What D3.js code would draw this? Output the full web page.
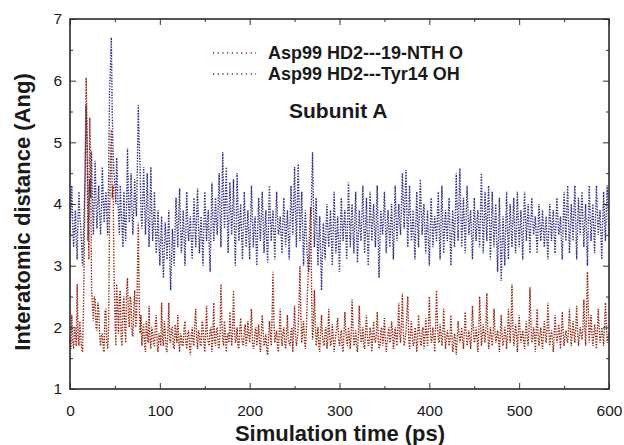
<!doctype html>
<html lang="en">
  <head>
    <meta charset="utf-8">
    <title>Interatomic distance</title>
    <script src="https://d3js.org/d3.v7.min.js"></script>
    <style>
      body { margin: 0; background: #fff; }
      text { font-family: "Liberation Sans", Arial, sans-serif; fill: #1a1a1a; }
    </style>
  </head>
  <body>
    <div id="my_dataviz"></div>

    <script>
      // time axis: one sample every 1 ps, 0..600
      var timeStep = 1;

      // Asp99 HD2---19-NTH O (red), 20 values per row = 20 ps
      var ntoValues = [
        1.8, 1.65, 2.2, 1.75, 1.65, 2.0, 1.9, 1.7, 2.7, 1.85, 1.7, 2.1, 1.85, 1.65, 1.6, 2.3, 3.4, 4.8, 6.05, 5.2,
        4.2, 3.1, 5.4, 4.5, 2.6, 2.35, 2.1, 2.5, 2.45, 2.0, 1.95, 2.4, 2.3, 1.9, 1.7, 1.85, 1.9, 1.65, 1.6, 2.25,
        2.3, 1.75, 1.65, 2.0, 3.8, 4.6, 5.2, 4.1, 4.3, 2.9, 2.2, 1.7, 2.7, 2.3, 1.9, 2.5, 2.6, 1.8, 1.7, 2.35,
        2.5, 2.0, 1.75, 2.6, 2.8, 2.2, 2.0, 2.5, 2.4, 1.9, 1.85, 2.3, 2.6, 2.0, 2.1, 2.8, 3.7, 2.5, 1.9, 2.2,
        1.7, 1.95, 2.05, 1.7, 1.6, 2.1, 1.9, 1.75, 2.35, 1.8, 1.65, 2.0, 1.95, 1.7, 1.7, 2.05, 2.2, 1.75, 1.6, 1.9,
        1.85, 1.7, 2.4, 1.8, 1.7, 2.1, 1.95, 1.65, 1.6, 1.95, 2.4, 1.8, 1.75, 2.0, 2.0, 1.7, 1.65, 2.05, 1.9, 1.75,
        2.2, 1.8, 1.6, 1.9, 1.85, 1.7, 1.7, 2.0, 2.1, 1.75, 1.65, 1.9, 1.95, 1.7, 1.55, 1.85, 2.0, 1.75, 1.7, 2.1,
        2.3, 1.8, 1.65, 1.95, 1.9, 1.7, 1.7, 2.1, 2.05, 1.75, 1.6, 1.9, 2.35, 1.85, 1.75, 1.7, 1.95, 2.0, 1.6, 1.85,
        2.4, 1.8, 1.7, 1.95, 2.0, 1.7, 1.65, 1.9, 2.7, 2.1, 1.8, 1.7, 2.1, 1.9, 1.6, 1.85, 1.9, 1.75, 2.25, 1.95,
        1.7, 1.9, 2.6, 2.0, 1.75, 1.8, 2.0, 1.7, 1.65, 1.95, 2.15, 1.85, 1.75, 1.7, 1.95, 2.05, 1.7, 1.8, 2.1, 1.9,
        1.75, 1.95, 2.3, 1.8, 1.65, 1.7, 1.95, 2.0, 1.7, 1.85, 2.05, 1.75, 1.6, 1.9, 2.2, 1.95, 1.7, 1.75, 1.9, 1.65,
        1.55, 1.8, 2.1, 1.9, 1.7, 2.2, 2.9, 2.1, 1.75, 1.85, 1.95, 1.7, 1.6, 1.95, 2.3, 1.85, 1.7, 1.9, 2.0, 1.75,
        1.65, 1.9, 2.2, 1.8, 1.75, 1.7, 1.95, 2.0, 1.6, 1.95, 2.35, 1.9, 1.7, 1.8, 2.0, 2.4, 3.0, 2.2, 1.75, 1.95,
        2.1, 1.8, 1.65, 1.9, 2.4, 2.8, 3.3, 3.7, 3.95, 2.5, 1.8, 2.0, 2.6, 2.1, 1.7, 1.85, 2.0, 1.7, 1.6, 1.95,
        2.2, 1.85, 1.75, 1.7, 1.95, 2.0, 1.65, 1.8, 2.3, 1.9, 1.7, 1.75, 2.05, 1.85, 1.6, 1.75, 1.9, 2.0, 2.15, 1.8,
        1.7, 1.85, 1.95, 1.7, 1.6, 1.9, 2.25, 1.95, 1.75, 1.7, 2.0, 1.85, 1.65, 1.9, 2.45, 2.0, 1.7, 1.75, 1.95, 1.7,
        1.6, 1.9, 2.35, 1.95, 1.75, 1.8, 2.0, 1.7, 1.65, 1.95, 2.2, 1.85, 1.7, 1.75, 2.0, 1.9, 1.6, 1.85, 2.1, 1.8,
        1.75, 1.9, 2.25, 1.85, 1.65, 1.7, 1.95, 2.0, 1.7, 1.85, 2.15, 1.8, 1.6, 1.75, 1.9, 2.0, 1.75, 1.8, 2.1, 1.95,
        1.65, 1.8, 2.0, 1.85, 1.7, 2.0, 2.4, 1.9, 1.75, 2.1, 2.55, 1.9, 1.7, 1.8, 1.95, 2.2, 2.5, 1.85, 1.65, 1.9,
        2.1, 1.85, 1.7, 1.75, 2.0, 1.9, 1.6, 1.8, 2.2, 1.95, 1.75, 1.7, 1.95, 2.0, 1.65, 1.8, 2.15, 1.9, 1.7, 2.0,
        2.5, 2.0, 1.75, 1.8, 2.0, 1.85, 1.6, 2.0, 2.6, 2.1, 1.8, 1.75, 2.05, 1.9, 1.7, 1.85, 2.3, 1.95, 1.65, 1.8,
        1.95, 1.85, 1.7, 1.8, 2.2, 1.9, 1.6, 1.7, 1.9, 1.8, 1.55, 1.8, 2.1, 1.9, 1.75, 1.85, 2.0, 1.8, 1.65, 1.95,
        2.25, 1.9, 1.7, 1.8, 1.95, 1.85, 1.65, 1.9, 2.35, 2.0, 1.75, 1.8, 2.0, 1.85, 1.6, 1.9, 2.5, 2.1, 1.7, 1.85,
        2.05, 1.9, 1.75, 2.0, 2.55, 1.95, 1.65, 1.8, 2.0, 1.85, 1.7, 1.9, 2.3, 1.95, 1.75, 1.85, 1.95, 1.8, 1.6, 1.9,
        2.2, 1.85, 1.7, 1.8, 2.0, 1.9, 1.65, 1.85, 2.3, 2.0, 1.75, 2.1, 2.7, 2.0, 1.7, 1.85, 2.05, 1.9, 1.6, 1.9,
        2.2, 1.95, 1.75, 1.85, 1.95, 1.8, 1.65, 1.9, 2.1, 1.85, 1.7, 2.0, 2.65, 2.1, 1.75, 1.8, 2.0, 1.9, 1.6, 1.95,
        2.3, 1.9, 1.7, 1.85, 2.0, 1.8, 1.65, 1.9, 2.1, 1.9, 1.75, 1.95, 2.4, 2.0, 1.7, 1.85, 1.95, 1.8, 1.6, 1.9,
        2.2, 1.9, 1.75, 1.85, 2.05, 1.9, 1.65, 1.95, 2.25, 1.9, 1.7, 1.85, 1.95, 1.8, 1.75, 2.0, 2.3, 1.95, 1.7, 1.9,
        2.1, 1.9, 1.75, 2.0, 2.35, 1.95, 1.7, 1.85, 2.0, 1.9, 1.8, 2.0, 2.45, 2.0, 1.7, 2.2, 2.9, 2.3, 1.75, 1.95,
        2.2, 1.9, 1.7, 1.85, 2.05, 1.9, 1.65, 1.95, 2.3, 2.0, 1.75, 1.85, 2.0, 1.9, 1.7, 2.0, 2.4, 2.05, 1.75, 1.85,
        1.9
      ];

      // Asp99 HD2---Tyr14 OH (blue), 20 values per row = 20 ps
      var tyrValues = [
        3.5, 3.9, 4.3, 3.7, 3.3, 3.6, 3.9, 3.4, 3.1, 3.8, 4.2, 3.8, 3.6, 3.3, 3.0, 3.5, 4.0, 4.6, 5.6, 4.9,
        3.4, 3.9, 4.4, 4.1, 4.85, 4.0, 3.5, 4.1, 4.7, 4.0, 3.6, 4.0, 4.3, 3.8, 3.5, 3.9, 4.6, 4.1, 3.7, 4.0,
        4.2, 3.8, 3.5, 4.4, 5.8, 6.2, 6.7, 5.5, 4.8, 4.5, 4.3, 4.0, 4.75, 4.2, 3.8, 3.5, 4.3, 3.9, 3.6, 3.3,
        4.2, 3.7, 3.4, 4.0, 4.9, 4.1, 3.7, 4.0, 4.5, 3.9, 3.5, 3.9, 4.4, 4.0, 3.8, 4.6, 5.6, 5.0, 4.6, 3.9,
        3.6, 4.0, 4.6, 4.0, 3.5, 3.9, 4.5, 3.8, 3.3, 3.8, 4.6, 3.9, 3.4, 3.7, 4.2, 3.6, 3.2, 3.5, 3.9, 3.4,
        3.0, 3.4, 3.8, 3.2, 2.8, 3.3, 3.7, 3.4, 3.1, 3.5, 3.9, 3.2, 2.6, 3.1, 3.6, 3.3, 3.0, 3.6, 4.1, 3.7,
        3.3, 3.8, 4.25, 3.6, 3.2, 3.5, 3.9, 3.5, 3.0, 3.6, 4.2, 3.7, 3.4, 3.6, 3.8, 3.4, 3.1, 3.6, 4.1, 3.7,
        3.3, 3.8, 4.25, 3.7, 3.2, 3.5, 3.8, 3.4, 3.0, 3.6, 4.2, 3.8, 3.4, 3.7, 3.9, 3.3, 2.9, 3.7, 4.35, 3.8,
        3.4, 3.7, 4.1, 3.7, 3.5, 4.0, 4.5, 3.9, 3.3, 4.0, 4.84, 4.1, 3.6, 4.1, 4.6, 3.8, 3.2, 3.8, 4.35, 3.9,
        3.5, 3.9, 4.4, 3.6, 3.0, 3.7, 4.5, 3.9, 3.4, 3.7, 4.0, 3.5, 3.1, 3.7, 4.2, 3.7, 3.3, 3.6, 3.9, 3.5,
        3.1, 3.7, 4.3, 3.8, 3.3, 3.6, 3.8, 3.4, 3.0, 3.6, 4.1, 3.7, 3.4, 3.8, 4.2, 3.7, 3.2, 3.6, 3.9, 3.4,
        3.05, 3.7, 4.3, 3.8, 3.4, 3.7, 3.9, 3.5, 3.1, 3.7, 4.2, 3.8, 3.5, 3.6, 3.8, 3.5, 3.2, 3.7, 4.1, 3.7,
        3.3, 3.6, 3.9, 3.5, 3.1, 3.7, 4.3, 3.9, 3.5, 4.0, 4.6, 3.9, 3.3, 4.0, 4.65, 4.0, 3.4, 3.8, 4.2, 3.6,
        3.0, 3.5, 3.9, 3.5, 3.2, 3.0, 2.9, 3.2, 3.5, 4.2, 4.84, 4.0, 3.3, 3.7, 4.1, 3.5, 3.0, 3.4, 3.8, 3.2,
        2.6, 3.2, 3.7, 3.4, 3.1, 3.6, 4.0, 3.6, 3.3, 3.6, 3.9, 3.4, 3.0, 3.6, 4.2, 3.7, 3.2, 3.5, 3.8, 3.3,
        2.9, 3.5, 4.1, 3.7, 3.4, 3.7, 3.9, 3.5, 3.1, 3.7, 4.35, 3.8, 3.3, 3.7, 4.0, 3.6, 3.2, 3.7, 4.2, 3.6,
        3.05, 3.5, 3.9, 3.6, 3.4, 3.8, 4.3, 3.7, 3.2, 3.6, 4.1, 3.5, 3.0, 3.6, 4.2, 3.8, 3.4, 3.7, 4.0, 3.6,
        3.3, 3.8, 4.3, 3.5, 2.8, 3.4, 3.9, 3.7, 3.5, 3.8, 4.2, 3.7, 3.2, 3.6, 3.9, 3.6, 3.3, 3.7, 4.0, 3.5,
        3.1, 3.7, 4.3, 3.8, 3.4, 3.7, 4.0, 3.7, 3.5, 4.0, 4.5, 4.0, 3.6, 4.1, 4.55, 3.9, 3.3, 3.8, 4.3, 3.8,
        3.4, 3.6, 3.9, 3.5, 3.1, 3.7, 4.2, 3.7, 3.3, 3.9, 4.4, 3.9, 3.5, 3.8, 4.0, 3.6, 3.2, 3.6, 3.9, 3.4,
        3.0, 3.6, 4.1, 3.7, 3.3, 3.6, 3.8, 3.6, 3.4, 3.8, 4.2, 3.6, 3.1, 3.7, 4.3, 3.7, 3.2, 3.6, 3.9, 3.6,
        3.4, 3.8, 4.1, 3.5, 3.0, 3.5, 3.9, 3.6, 3.3, 3.9, 4.5, 3.9, 3.4, 4.0, 4.58, 3.9, 3.3, 3.7, 4.1, 3.6,
        3.2, 3.8, 4.3, 3.9, 3.5, 3.7, 3.9, 3.5, 3.1, 3.6, 4.1, 3.7, 3.4, 3.7, 3.9, 3.6, 3.3, 3.9, 4.5, 3.8,
        3.2, 3.7, 4.2, 3.8, 3.4, 3.9, 4.3, 3.7, 3.1, 3.6, 4.2, 3.7, 3.3, 3.7, 4.0, 3.4, 2.9, 3.5, 4.1, 3.4,
        2.75, 3.3, 3.8, 3.4, 3.0, 3.6, 4.2, 3.6, 3.1, 3.6, 4.0, 3.6, 3.3, 3.7, 4.1, 3.6, 3.2, 3.7, 4.2, 3.7,
        3.3, 3.6, 3.9, 3.5, 3.1, 3.7, 4.2, 3.8, 3.4, 3.7, 4.0, 3.6, 3.2, 3.7, 4.1, 3.8, 3.5, 3.6, 3.8, 3.5,
        3.2, 3.6, 4.0, 3.7, 3.4, 3.6, 3.9, 3.6, 3.3, 3.6, 3.8, 3.4, 3.1, 3.6, 4.0, 3.7, 3.4, 3.7, 3.9, 3.5,
        3.2, 3.7, 4.1, 3.8, 3.5, 3.6, 3.8, 3.4, 3.1, 3.7, 4.2, 3.8, 3.4, 3.9, 4.3, 3.7, 3.2, 3.6, 4.0, 3.7,
        3.4, 3.9, 4.3, 3.7, 3.1, 3.6, 4.1, 3.8, 3.5, 3.9, 4.2, 3.7, 3.3, 3.7, 4.0, 3.5, 3.0, 3.7, 4.3, 3.8,
        3.4, 3.7, 4.0, 3.6, 3.2, 3.8, 4.3, 3.9, 3.5, 3.7, 3.9, 3.5, 3.1, 3.7, 4.2, 3.8, 3.4, 3.9, 4.3, 3.9,
        3.5
      ];

      var xTicks = [0, 100, 200, 300, 400, 500, 600];
      var xMinorTicks = [50, 150, 250, 350, 450, 550];
      var yTicks = [1, 2, 3, 4, 5, 6, 7];
      var yMinorTicks = [1.5, 2.5, 3.5, 4.5, 5.5, 6.5];

      var legendLabels = ["Asp99 HD2---19-NTH O", "Asp99 HD2---Tyr14 OH"];
      var seriesColors = ["#98240f", "#2e2e86"];

      var ntoData = ntoValues.map(function(v, i) { return {t: i * timeStep, d: v}; });
      var tyrData = tyrValues.map(function(v, i) { return {t: i * timeStep, d: v}; });

      var W = 624, H = 445;
      var margin = {left: 70, right: 609, top: 19, bottom: 389};

      var svg = d3.select("#my_dataviz")
        .append("svg")
          .attr("width", W)
          .attr("height", H);

      var x = d3.scaleLinear().domain([0, 600]).range([margin.left, margin.right]);
      var y = d3.scaleLinear().domain([1, 7]).range([margin.bottom, margin.top]);

      var line = d3.line()
        .x(function(d) { return x(d.t); })
        .y(function(d) { return y(d.d); });

      var plot = svg.append("g");

      // blue first, red on top
      plot.append("path")
        .datum(tyrData)
        .attr("fill", "none")
        .attr("stroke", seriesColors[1])
        .attr("stroke-width", 1.4)
        .attr("stroke-dasharray", "1.4,1.4")
        .attr("d", line);

      plot.append("path")
        .datum(ntoData)
        .attr("fill", "none")
        .attr("stroke", seriesColors[0])
        .attr("stroke-width", 1.4)
        .attr("stroke-dasharray", "1.4,1.4")
        .attr("d", line);

      // axes, ticks pointing inward on all four sides
      function styleAxis(g) {
        g.select(".domain").remove();
        g.selectAll(".tick line").attr("stroke", "#333").attr("stroke-width", 1);
        g.selectAll("text")
          .attr("font-size", 15.5)
          .style("fill", "#1a1a1a");
      }

      svg.append("g")
        .attr("transform", "translate(0," + margin.bottom + ")")
        .call(d3.axisBottom(x).tickValues(xTicks).tickSize(-6).tickPadding(16).tickFormat(d3.format("d")))
        .call(styleAxis);
      svg.append("g")
        .attr("transform", "translate(0," + margin.bottom + ")")
        .call(d3.axisBottom(x).tickValues(xMinorTicks).tickSize(-3).tickFormat(""))
        .call(styleAxis);
      svg.append("g")
        .attr("transform", "translate(0," + margin.top + ")")
        .call(d3.axisTop(x).tickValues(xTicks).tickSize(-6).tickFormat(""))
        .call(styleAxis);
      svg.append("g")
        .attr("transform", "translate(0," + margin.top + ")")
        .call(d3.axisTop(x).tickValues(xMinorTicks).tickSize(-3).tickFormat(""))
        .call(styleAxis);

      svg.append("g")
        .attr("transform", "translate(" + margin.left + ",0)")
        .call(d3.axisLeft(y).tickValues(yTicks).tickSize(-6).tickPadding(8).tickFormat(d3.format("d")))
        .call(styleAxis);
      svg.append("g")
        .attr("transform", "translate(" + margin.left + ",0)")
        .call(d3.axisLeft(y).tickValues(yMinorTicks).tickSize(-3).tickFormat(""))
        .call(styleAxis);
      svg.append("g")
        .attr("transform", "translate(" + margin.right + ",0)")
        .call(d3.axisRight(y).tickValues(yTicks).tickSize(-6).tickFormat(""))
        .call(styleAxis);
      svg.append("g")
        .attr("transform", "translate(" + margin.right + ",0)")
        .call(d3.axisRight(y).tickValues(yMinorTicks).tickSize(-3).tickFormat(""))
        .call(styleAxis);

      // frame
      svg.append("rect")
        .attr("x", margin.left)
        .attr("y", margin.top)
        .attr("width", margin.right - margin.left)
        .attr("height", margin.bottom - margin.top)
        .attr("fill", "none")
        .attr("stroke", "#2a2a2a")
        .attr("stroke-width", 1.6);

      // axis titles
      svg.append("text")
        .attr("x", 340)
        .attr("y", 441)
        .attr("text-anchor", "middle")
        .attr("font-size", 22)
        .attr("font-weight", "bold")
        .text("Simulation time (ps)");

      svg.append("text")
        .attr("transform", "translate(30,212) rotate(-90)")
        .attr("text-anchor", "middle")
        .attr("font-size", 22)
        .attr("font-weight", "bold")
        .text("Interatomic distance (Ang)");

      // legend
      var legend = svg.append("g");
      legendLabels.forEach(function(label, i) {
        var ly = 53 + i * 21;
        legend.append("line")
          .attr("x1", 213).attr("x2", 256)
          .attr("y1", ly).attr("y2", ly)
          .attr("stroke", seriesColors[i])
          .attr("stroke-width", 1.5)
          .attr("stroke-dasharray", "1.2,3.5");
        legend.append("text")
          .attr("x", 268)
          .attr("y", ly + 6)
          .attr("font-size", 18)
          .attr("font-weight", "bold")
          .text(label);
      });

      svg.append("text")
        .attr("x", 289)
        .attr("y", 118)
        .attr("font-size", 21)
        .attr("font-weight", "bold")
        .text("Subunit A");
    </script>
  </body>
</html>
